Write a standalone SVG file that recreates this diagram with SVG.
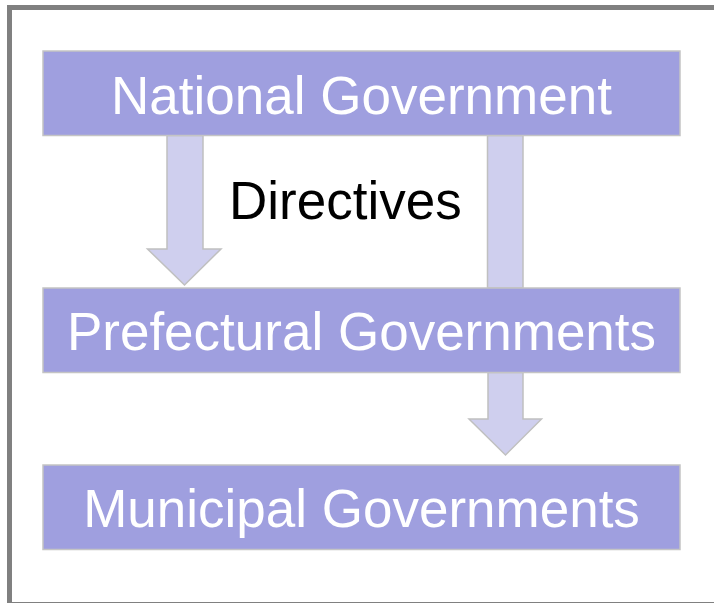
<svg xmlns="http://www.w3.org/2000/svg" width="714" height="603" viewBox="0 0 714 603">
<style>
.box{fill:#9f9fdf;stroke:#c4c4c4;stroke-width:1.5}
.arrow{fill:#cfcfee;stroke:#c0c0c0;stroke-width:1.5}
.lbl{font-family:"Liberation Sans",Arial,sans-serif;font-size:53px;fill:#ffffff;text-anchor:middle}
.note{font-family:"Liberation Sans",Arial,sans-serif;font-size:53px;fill:#000000}
</style>
<rect x="0" y="0" width="714" height="603" fill="#ffffff"/>
<rect x="9.5" y="7.5" width="720" height="597" fill="#ffffff" stroke="#808080" stroke-width="5"/>
<g id="connectors">
<path class="arrow" d="M167,135.5 L203,135.5 L203,249 L221,249 L184.5,285 L147.5,249 L167,249 Z"/>
<path class="arrow" d="M487.5,135.5 L523,135.5 L523,288 L487.5,288 Z"/>
<path class="arrow" d="M488,372.5 L523,372.5 L523,419 L541.5,419 L505.5,455 L469,419 L488,419 Z"/>
</g>
<g id="national">
<rect class="box" x="43" y="51" width="637" height="84.5"/>
<text class="lbl" x="361.5" y="113.5">National Government</text>
</g>
<g id="prefectural">
<rect class="box" x="43" y="288" width="637" height="84.5"/>
<text class="lbl" x="361.5" y="350">Prefectural Governments</text>
</g>
<g id="municipal">
<rect class="box" x="43" y="465" width="637" height="84.5"/>
<text class="lbl" x="361.5" y="527">Municipal Governments</text>
</g>
<g id="directives">
<text class="note" x="229" y="219">Directives</text>
</g>
</svg>
